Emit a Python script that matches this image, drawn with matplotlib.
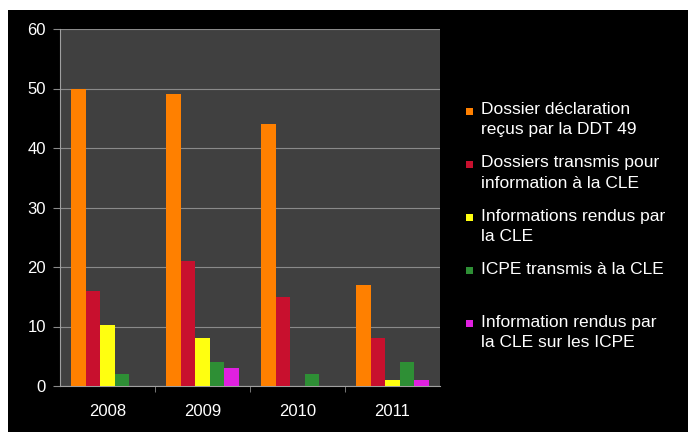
import numpy as np
import matplotlib.pyplot as plt
from matplotlib.patches import Rectangle
from matplotlib.container import BarContainer
from matplotlib.legend_handler import HandlerPatch

annees = ["2008", "2009", "2010", "2011"]
series = [
    "Dossier déclaration\nreçus par la DDT 49",
    "Dossiers transmis pour\ninformation à la CLE",
    "Informations rendus par\nla CLE",
    "ICPE transmis à la CLE\n",
    "Information rendus par\nla CLE sur les ICPE",
]
dossiers_ddt = [50, 49, 44, 17]
transmis_cle = [16, 21, 15, 8]
rendus_cle = [10.3, 8, 0, 1]
icpe_transmis = [2, 4, 2, 4]
icpe_rendus = [0, 3, 0, 1]

valeurs = [dossiers_ddt, transmis_cle, rendus_cle, icpe_transmis, icpe_rendus]
couleurs = ["#ff8000", "#c8102e", "#ffff10", "#2e8f35", "#e020e0"]

plt.rcParams['font.family'] = ['Liberation Sans', 'DejaVu Sans']

fig = plt.figure(figsize=(6.88, 4.32), dpi=100, facecolor="white")
fig.patches.append(Rectangle((8 / 688, 0), 1, 1 - 10 / 432, transform=fig.transFigure,
                             facecolor="black", edgecolor="none", zorder=-10))

ax = fig.add_axes([60 / 688, 1 - 386 / 432, 380 / 688, 357 / 432])
ax.set_facecolor("#404040")

x = np.arange(len(annees))
larg = 0.152
for i, (vals, c, lab) in enumerate(zip(valeurs, couleurs, series)):
    ax.bar(x + (i - 2) * larg, vals, width=larg, color=c, label=lab, zorder=3)

ax.set_xlim(-0.5, 3.5)
ax.set_ylim(0, 60)
ax.set_yticks(range(0, 61, 10))
ax.grid(axis="y", color="#8a8a8a", linewidth=0.8, zorder=1)
ax.set_xticks(x)
ax.set_xticklabels(annees)
ax.set_xticks([0.5, 1.5, 2.5], minor=True)
ax.tick_params(axis="x", which="major", length=0, colors="white", labelsize=12, pad=13)
ax.tick_params(axis="x", which="minor", length=4, color="#8a8a8a", direction="out")
ax.tick_params(axis="y", length=5, color="#8a8a8a", colors="white", labelsize=12, pad=5)
for cote in ["top", "right"]:
    ax.spines[cote].set_visible(False)
for cote in ["left", "bottom"]:
    ax.spines[cote].set_color("#a0a0a0")


# petit carre centre sur la premiere ligne du texte
def carre(legend, orig_handle, xdescent, ydescent, width, height, fontsize):
    cote = 0.4 * fontsize
    return Rectangle((-xdescent, -ydescent + (height - cote) / 2), cote, cote)


def maj(legend_handle, orig_handle):
    legend_handle.update_from(orig_handle.patches[0])


leg = ax.legend(loc="upper left", bbox_to_anchor=(1.068, 0.795), frameon=False,
                labelcolor="white", fontsize=12.5, handlelength=0.4, handleheight=1.2,
                handletextpad=0.45, labelspacing=1.03, borderaxespad=0, borderpad=0,
                handler_map={BarContainer: HandlerPatch(patch_func=carre, update_func=maj)})
for col in leg._legend_handle_box.get_children():
    for ligne in col.get_children():
        ligne.align = "top"
for t in leg.get_texts():
    t.set_linespacing(1.44)

fig.savefig("out.png", dpi=100, facecolor=fig.get_facecolor())
